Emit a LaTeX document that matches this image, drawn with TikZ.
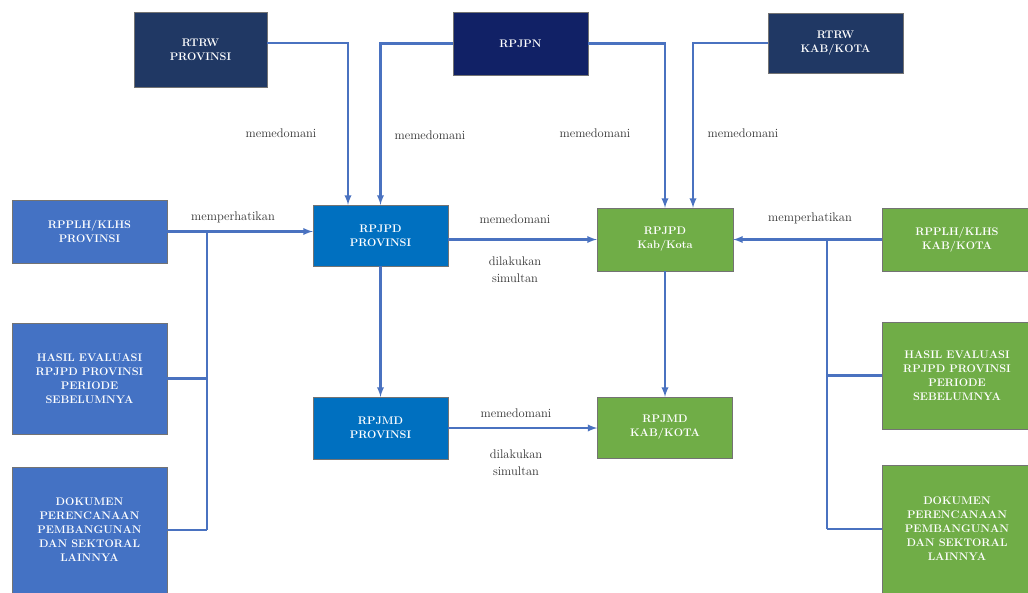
\documentclass[tikz,border=0pt]{standalone}
\usepackage{xcolor}
\definecolor{navyA}{HTML}{203864}
\definecolor{navyB}{HTML}{112166}
\definecolor{provblue}{HTML}{4472C4}
\definecolor{mainblue}{HTML}{0070C0}
\definecolor{kabgreen}{HTML}{70AD47}
\definecolor{linkblue}{HTML}{4A72C0}
\begin{document}
\begin{tikzpicture}[x=1pt,y=-1pt,>=latex]
    \tikzstyle{doc}=[draw=black!55,thin,text=white,align=center,font=\fontsize{11}{14}\selectfont\bfseries,inner sep=2pt]
    \tikzstyle{rel}=[text=black!80,align=center,font=\fontsize{12.5}{17}\selectfont,inner sep=1pt]
    \tikzstyle{link}=[draw=linkblue,line width=2.2pt]
    \useasboundingbox (0,0) rectangle (1028,592);

    % atas
    \node at (200.5, 49.5) (rtrwprov) [doc,fill=navyA,minimum width=133,minimum height=75] {RTRW\\PROVINSI};
    \node at (520.5, 43.5) (rpjpn) [doc,fill=navyB,minimum width=135,minimum height=63] {RPJPN};
    \node at (835.5, 43) (rtrwkab) [doc,fill=navyA,minimum width=135,minimum height=60] {RTRW\\KAB/KOTA};

    % kiri
    \node at (89.5, 231.5) (rpplhprov) [doc,fill=provblue,minimum width=155,minimum height=63] {RPPLH/KLHS\\PROVINSI};
    \node at (89.5, 378.5) (hasilprov) [doc,fill=provblue,minimum width=155,minimum height=111] {HASIL EVALUASI\\RPJPD PROVINSI\\PERIODE\\SEBELUMNYA};
    \node at (89.5, 530) (dokprov) [doc,fill=provblue,minimum width=155,minimum height=126] {DOKUMEN\\PERENCANAAN\\PEMBANGUNAN\\DAN SEKTORAL\\LAINNYA};

    % tengah
    \node at (380.5, 235.5) (rpjpdprov) [doc,fill=mainblue,minimum width=135,minimum height=61] {RPJPD\\PROVINSI};
    \node at (665, 239.5) (rpjpdkab) [doc,fill=kabgreen,minimum width=136,minimum height=63] {RPJPD\\Kab/Kota};
    \node at (380.5, 428) (rpjmdprov) [doc,fill=mainblue,minimum width=135,minimum height=62] {RPJMD\\PROVINSI};
    \node at (665, 427.5) (rpjmdkab) [doc,fill=kabgreen,minimum width=135,minimum height=61] {RPJMD\\KAB/KOTA};

    % kanan
    \node at (957, 239.5) (rpplhkab) [doc,fill=kabgreen,minimum width=150,minimum height=63] {RPPLH/KLHS\\KAB/KOTA};
    \node at (957, 375.5) (hasilkab) [doc,fill=kabgreen,minimum width=150,minimum height=107] {HASIL EVALUASI\\RPJPD PROVINSI\\PERIODE\\SEBELUMNYA};
    \node at (957, 529) (dokkab) [doc,fill=kabgreen,minimum width=150,minimum height=128] {DOKUMEN\\PERENCANAAN\\PEMBANGUNAN\\DAN SEKTORAL\\LAINNYA};

    \coordinate (busl) at (207, 0);
    \coordinate (busr) at (827, 0);

    % label
    \node at (281, 133) (m1) [rel] {memedomani};
    \node at (430, 135) (m2) [rel] {memedomani};
    \node at (595, 133) (m3) [rel] {memedomani};
    \node at (743, 133) (m4) [rel] {memedomani};
    \node at (233, 217) (p1) [rel] {memperhatikan};
    \node at (810, 218) (p2) [rel] {memperhatikan};
    \node at (515, 219) (m5) [rel] {memedomani};
    \node at (515, 270) (s1) [rel] {dilakukan\\simultan};
    \node at (516, 413) (m6) [rel] {memedomani};
    \node at (516, 463) (s2) [rel] {dilakukan\\simultan};

    % panah
    \draw[link,->] ([yshift=6.5pt]rtrwprov.east) -| ([xshift=-32.5pt]rpjpdprov.north);
    \draw[link,->] (rpjpn.west) -| (rpjpdprov.north);
    \draw[link,->] (rpjpn.east) -| (rpjpdkab.north);
    \draw[link,->] (rtrwkab.west) -| ([xshift=28pt]rpjpdkab.north);

    \draw[link,->] (rpplhprov.east) -- (rpplhprov.east -| rpjpdprov.west);
    \draw[link] (busl |- rpplhprov.east) -- (busl |- dokprov.east);
    \draw[link] (hasilprov.east) -- (hasilprov.east -| busl);
    \draw[link] (dokprov.east) -- (dokprov.east -| busl);

    \draw[link,->] (rpplhkab.west) -- (rpplhkab.west -| rpjpdkab.east);
    \draw[link] (busr |- rpplhkab.west) -- (busr |- dokkab.west);
    \draw[link] (hasilkab.west) -- (hasilkab.west -| busr);
    \draw[link] (dokkab.west) -- (dokkab.west -| busr);

    \draw[link,->] (rpjpdprov.east |- rpjpdkab.west) -- (rpjpdkab.west);
    \draw[link,->] (rpjpdprov.south) -- (rpjmdprov.north);
    \draw[link,->] (rpjpdkab.south) -- (rpjmdkab.north);
    \draw[link,->] (rpjmdprov.east) -- (rpjmdprov.east -| rpjmdkab.west);
\end{tikzpicture}
\end{document}
